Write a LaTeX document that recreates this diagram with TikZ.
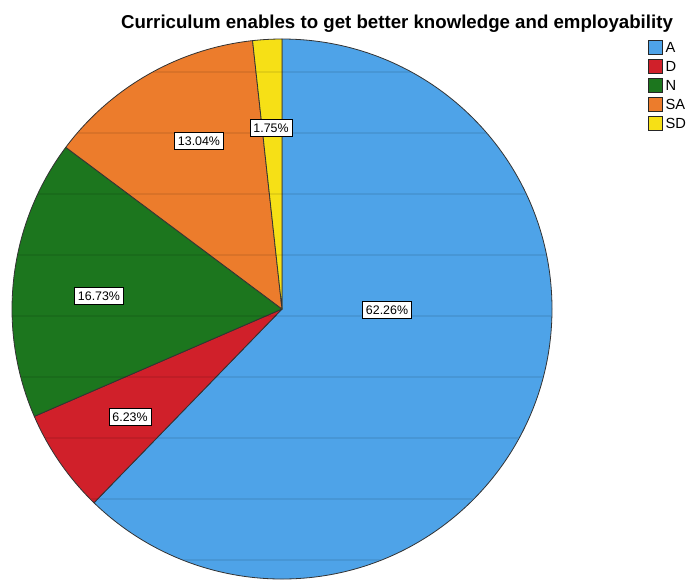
\documentclass[tikz,border=0pt]{standalone}
\usepackage{xcolor}
\usepackage{fontspec}
\setmainfont{Liberation Sans}
\usepackage{tikz}

\definecolor{cA}{RGB}{78,163,232}
\definecolor{cD}{RGB}{208,32,42}
\definecolor{cN}{RGB}{28,118,30}
\definecolor{cSA}{RGB}{236,124,44}
\definecolor{cSD}{RGB}{246,224,22}

\tikzset{
  slice/.style={draw=black!80,line width=0.6pt,line join=round},
  pctlbl/.style={draw=black,fill=white,line width=0.6pt,inner xsep=2.6pt,inner ysep=3pt,font=\fontsize{9.3}{10}\selectfont},
  keybox/.style={draw=black!85,line width=0.6pt,minimum size=10.5pt,inner sep=0pt},
  keytxt/.style={anchor=west,inner sep=0.75pt,font=\fontsize{11}{12}\selectfont}
}

\begin{document}
\begin{tikzpicture}[x=0.75pt,y=0.75pt,yscale=-1,xscale=1]
\useasboundingbox (0,0) rectangle (689,583);

%Pie centre
\coordinate (ctr) at (282,309);

%Slices [A, D, N, SA, SD]
\foreach \s/\e/\c in {-90/134.14/cA,134.14/156.56/cD,156.56/216.79/cN,216.79/263.74/cSA,263.74/270/cSD}
  \draw[slice,fill=\c] (ctr) -- ++(\s:270) arc[start angle=\s,end angle=\e,radius=270] -- cycle;

%Scan lines across the pie
\begin{scope}
\clip (ctr) circle[radius=269];
\foreach \y in {72,133,...,560}
  \draw[black,opacity=0.08,line width=1.6pt] (0,\y) -- (560,\y);
\end{scope}

% Text Node
\draw (397,28) node [anchor=base][inner sep=0.75pt][font=\fontsize{14}{16}\selectfont\bfseries] (title) {Curriculum enables to get better knowledge and employability};

% Percent labels
\draw (387,310) node [pctlbl] (pA) {62.26\%};
\draw (130,417) node [pctlbl] (pD) {6.23\%};
\draw (99,296) node [pctlbl] (pN) {16.73\%};
\draw (199,141) node [pctlbl] (pSA) {13.04\%};
\draw (271,128) node [pctlbl] (pSD) {1.75\%};

% Legend
\draw (655,47) node [keybox,fill=cA] (kA) {};
\draw (655,66) node [keybox,fill=cD] (kD) {};
\draw (655,85) node [keybox,fill=cN] (kN) {};
\draw (655,104) node [keybox,fill=cSA] (kSA) {};
\draw (655,123) node [keybox,fill=cSD] (kSD) {};
\draw (kA.east) ++(2,0) node [keytxt] (tA) {A};
\draw (kD.east) ++(2,0) node [keytxt] (tD) {D};
\draw (kN.east) ++(2,0) node [keytxt] (tN) {N};
\draw (kSA.east) ++(2,0) node [keytxt] (tSA) {SA};
\draw (kSD.east) ++(2,0) node [keytxt] (tSD) {SD};

\end{tikzpicture}
\end{document}
